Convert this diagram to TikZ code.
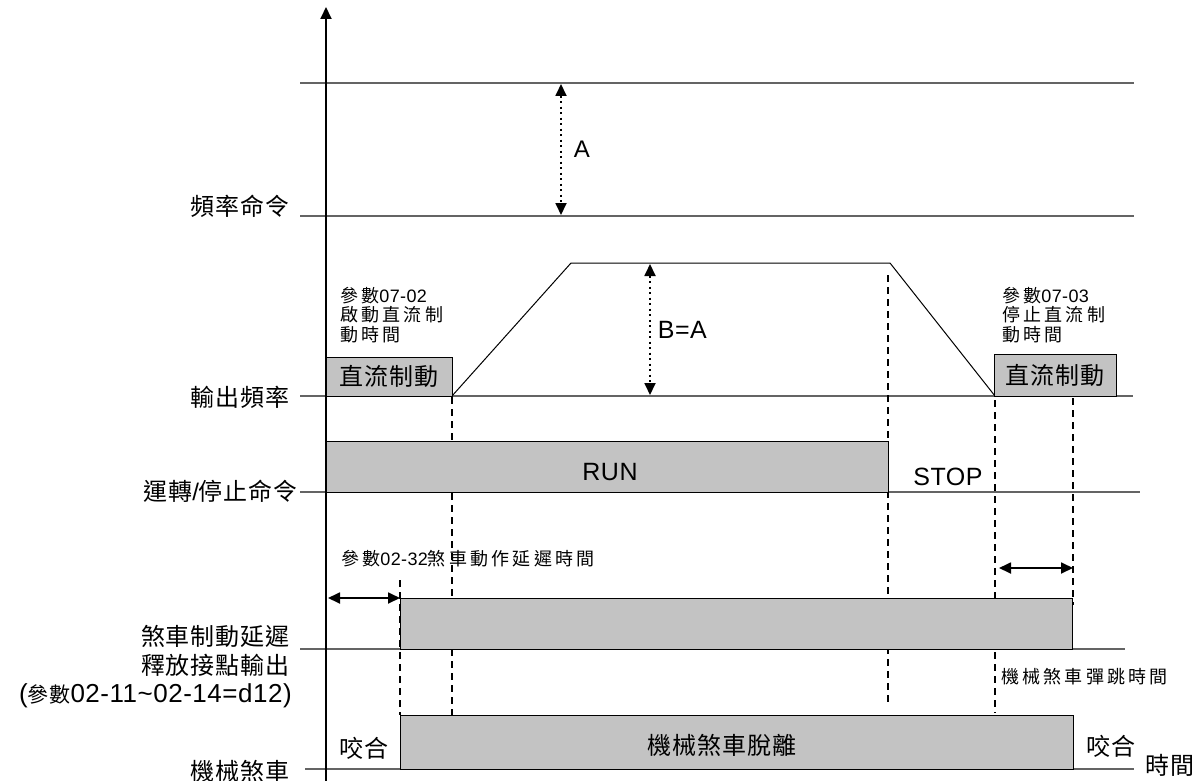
\documentclass[tikz,border=0pt]{standalone}
\usepackage{fontspec}
\setmainfont{Liberation Sans}[LetterSpace=2]
\newfontfamily\cjk{Noto Sans CJK TC}[LetterSpace=4]
\newfontfamily\cjks{Noto Sans CJK TC}[LetterSpace=18]
\newcommand\latn[1]{{\rmfamily #1}}
\usepackage{tikz}
\usetikzlibrary{arrows.meta,positioning}
\definecolor{barfill}{RGB}{195,195,195}
\definecolor{levelgray}{RGB}{100,100,100}

\begin{document}
\begin{tikzpicture}[x=1pt,y=-1pt,>={Triangle[length=12pt,width=11pt]},
level/.style={draw=levelgray,line width=1.3pt},
bar/.style={draw=black,line width=0.9pt,fill=barfill,inner sep=0pt,font=\cjk\fontsize{24}{26}\selectfont},
guide/.style={line width=1.8pt,dash pattern=on 7pt off 5pt},
gap/.style={<->,line width=1.8pt,dash pattern=on 2pt off 3.5pt},
span/.style={<->,line width=1.8pt},
tag/.style={anchor=east,inner sep=0pt,font=\cjk\fontsize{24}{26}\selectfont},
word/.style={inner sep=0pt,font=\fontsize{25}{27}\selectfont},
note/.style={anchor=west,inner sep=0pt,align=left,font=\cjks\fontsize{18}{19.5}\selectfont}]
\useasboundingbox (0,0) rectangle (1204,781);

% time axis
\coordinate (o) at (326,781);
\coordinate (ytop) at (326,7);

% frequency command
\coordinate (a0) at (300,83); \coordinate (a1) at (1134,83);
\coordinate (c0) at (300,216); \coordinate (c1) at (1134,216);
\draw[level] (a0)--(a1);
\draw[level] (c0)--(c1);
\node[tag] (fcmd) at (290,206) {頻率命令};
\coordinate (pa0) at (561,84); \coordinate (pa1) at (561,215);
\draw[gap] (pa0)--node[word,right=12pt,font=\fontsize{24}{26}\selectfont] (la) {A} (pa1);

% output frequency
\coordinate (f0) at (300,396); \coordinate (f1) at (1133,396);
\draw[level] (f0)--(f1);
\node[tag] (fout) at (290,397) {輸出頻率};
\coordinate (r0) at (452,396); \coordinate (r1) at (571,263);
\coordinate (r2) at (890,263); \coordinate (r3) at (995,396);
\draw[line width=1pt] (r0)--(r1)--(r2)--(r3);
\coordinate (pb0) at (650,264); \coordinate (pb1) at (650,395);
\draw[gap] (pb0)--node[word,right=7pt] (lb) {B=A} (pb1);
\node[note] (dcon) at (340,315) {參數\latn{07-02}\\啟動直流制\\動時間};
\node[note] (dcoff) at (1002,315) {參數\latn{07-03}\\停止直流制\\動時間};

% timing guides
\coordinate (g1a) at (400,580); \coordinate (g1b) at (400,715);
\coordinate (g2a) at (452,397); \coordinate (g2b) at (452,715);
\coordinate (g3a) at (888,275); \coordinate (g3b) at (888,703);
\coordinate (g4a) at (995,400); \coordinate (g4b) at (995,713);
\coordinate (g5a) at (1073,398); \coordinate (g5b) at (1073,605);
\draw[guide] (g1a)--(g1b);
\draw[guide] (g2a)--(g2b);
\draw[guide] (g3a)--(g3b);
\draw[guide] (g4a)--(g4b);
\draw[guide] (g5a)--(g5b);

\node[bar,minimum width=126pt,minimum height=39pt] (dcl) at (389,376.5) {直流制動};
\node[bar,minimum width=122pt,minimum height=42pt] (dcr) at (1055,375) {直流制動};

% run / stop
\coordinate (s0) at (300,492); \coordinate (s1) at (1140,492);
\draw[level] (s0)--(s1);
\node[bar,minimum width=562pt,minimum height=51pt] (run) at (607,466.5) {};
\node[word] (runt) at (610,472) {RUN};
\node[tag] (rscmd) at (298,491) {運轉\latn{/}停止命令};
\node[word] (stop) at (948,477) {STOP};

% brake release output
\coordinate (d0) at (328,598); \coordinate (d1) at (400,598);
\draw[span] (d0)--(d1);
\node[note] (dly) at (341,559) {參數\latn{02-32}煞車動作延遲時間};
\coordinate (b0) at (300,649); \coordinate (b1) at (1125,649);
\draw[level] (b0)--(b1);
\node[bar,minimum width=672pt,minimum height=51pt] (rel) at (736,623.5) {};
\node[tag] (out1) at (290,636) {煞車制動延遲};
\node[tag] (out2) at (290,665) {釋放接點輸出};
\node[tag,font=\fontsize{26}{28}\selectfont] (out3) at (292,696) {({\cjk\fontsize{21}{22}\selectfont 參數}02-11\textasciitilde 02-14=d12)};
\coordinate (e0) at (999,568); \coordinate (e1) at (1073,568);
\draw[span] (e0)--(e1);
\node[note] (bnc) at (1001,677) {機械煞車彈跳時間};

% mechanical brake
\coordinate (m0) at (305,769); \coordinate (m1) at (1134,769);
\draw[level] (m0)--(m1);
\node[bar,minimum width=673pt,minimum height=54pt] (mech) at (736.5,742) {};
\node[tag,anchor=center] (relt) at (722,745) {機械煞車脫離};
\node[tag] (mbrk) at (290,771) {機械煞車};
\node[tag,anchor=center] (hold1) at (364,748) {咬合};
\node[tag,anchor=center] (hold2) at (1111,746) {咬合};
\node[tag,anchor=center] (tm) at (1170,765) {時間};

\draw[->,line width=2pt] (o)--(ytop);
\end{tikzpicture}
\end{document}
